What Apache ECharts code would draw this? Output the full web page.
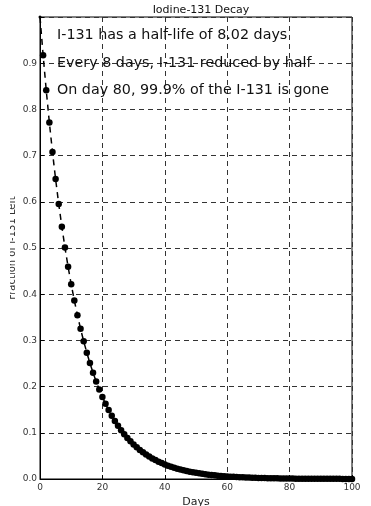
<!DOCTYPE html>
<html>
<head>
<meta charset="utf-8">
<script src="https://cdn.jsdelivr.net/npm/echarts@6/dist/echarts.min.js"></script>
<style>
  html, body { margin: 0; padding: 0; background: #fff; }
  #chart { width: 371px; height: 506px; }
</style>
</head>
<body>
<div id="chart"></div>
<script>
// fraction of I-131 left, one point per day (day 0 .. 100)
const days = [
  0, 1, 2, 3, 4, 5, 6, 7, 8, 9, 10, 11, 12, 13, 14, 15, 16, 17, 18, 19, 20,
  21, 22, 23, 24, 25, 26, 27, 28, 29, 30, 31, 32, 33, 34, 35, 36, 37, 38, 39, 40,
  41, 42, 43, 44, 45, 46, 47, 48, 49, 50, 51, 52, 53, 54, 55, 56, 57, 58, 59, 60,
  61, 62, 63, 64, 65, 66, 67, 68, 69, 70, 71, 72, 73, 74, 75, 76, 77, 78, 79, 80,
  81, 82, 83, 84, 85, 86, 87, 88, 89, 90, 91, 92, 93, 94, 95, 96, 97, 98, 99, 100
]
const fractionLeft = [
  1.0, 0.9172, 0.8413, 0.7716, 0.7077, 0.6491, 0.5954, 0.5461, 0.5009, 0.4594, 0.4214,
  0.3865, 0.3545, 0.3251, 0.2982, 0.2735, 0.2509, 0.2301, 0.2111, 0.1936, 0.1776,
  0.1629, 0.1494, 0.1370, 0.1257, 0.1153, 0.1057, 0.0970, 0.0889, 0.0816, 0.0748,
  0.0686, 0.0629, 0.0577, 0.0530, 0.0486, 0.0445, 0.0409, 0.0375, 0.0344, 0.0315,
  0.0289, 0.0265, 0.0243, 0.0223, 0.0205, 0.0188, 0.0172, 0.0158, 0.0145, 0.0133,
  0.0122, 0.0112, 0.0103, 0.0094, 0.0086, 0.0079, 0.0073, 0.0067, 0.0061, 0.0056,
  0.0051, 0.0047, 0.0043, 0.0040, 0.0036, 0.0033, 0.0031, 0.0028, 0.0026, 0.0024,
  0.0022, 0.0020, 0.0018, 0.0017, 0.0015, 0.0014, 0.0013, 0.0012, 0.0011, 0.0010,
  0.0009, 0.0008, 0.0008, 0.0007, 0.0007, 0.0006, 0.0005, 0.0005, 0.0005, 0.0004,
  0.0004, 0.0004, 0.0003, 0.0003, 0.0003, 0.0003, 0.0002, 0.0002, 0.0002, 0.0002
]
const notes = [
  'I-131 has a half-life of 8.02 days',
  'Every 8 days, I-131 reduced by half',
  'On day 80, 99.9% of the I-131 is gone'
]
const yTitle = 'Fraction of I-131 Left'

const font = 'DejaVu Sans'
const chart = echarts.init(document.getElementById('chart'), null, {
  renderer: 'canvas',
  width: 371,
  height: 506,
})

const gridDash = { color: '#333', type: [5, 4], width: 1 }

const option = {
  backgroundColor: '#fff',
  animation: false,
  title: {
    text: 'Iodine-131 Decay',
    left: 196,
    textAlign: 'center',
    top: 0,
    textStyle: { fontFamily: font, fontSize: 11, fontWeight: 'normal', color: '#111' },
  },
  grid: {
    left: 40,
    right: 19,
    top: 17,
    bottom: 27,
    outerBoundsMode: 'none',
    containLabel: false,
    show: true,
    borderColor: '#000',
    borderWidth: 1,
    backgroundColor: 'transparent',
  },
  xAxis: {
    type: 'value',
    min: 0,
    max: 100,
    interval: 20,
    name: 'Days',
    nameLocation: 'middle',
    nameGap: 12,
    nameTextStyle: { fontFamily: font, fontSize: 11, color: '#222' },
    axisLine: { lineStyle: { color: '#000' } },
    axisTick: { inside: true, length: 4, lineStyle: { color: '#000' } },
    axisLabel: { fontFamily: font, fontSize: 9, color: '#333', margin: 4 },
    splitLine: { show: true, lineStyle: gridDash },
  },
  yAxis: {
    type: 'value',
    min: 0,
    max: 1,
    interval: 0.1,
    axisLine: { lineStyle: { color: '#000' } },
    axisTick: { inside: true, length: 4, lineStyle: { color: '#000' } },
    axisLabel: {
      fontFamily: font,
      fontSize: 9,
      color: '#333',
      margin: 3,
      formatter: v => (v > 0.95 ? '' : v.toFixed(1)),
    },
    splitLine: { show: true, lineStyle: gridDash },
  },
  graphic: [
    ...notes.map((t, i) => ({
      type: 'text',
      z: 10,
      style: {
        x: 57,
        y: 35.5 + i * 27.5,
        text: t,
        fontFamily: font,
        fontSize: 14.3,
        fill: '#111',
        textVerticalAlign: 'middle',
      },
    })),
    // y axis title, its left part is cut off in the reference
    {
      type: 'text',
      x: 17,
      y: 248,
      rotation: Math.PI / 2,
      z: 10,
      style: {
        text: yTitle,
        fontFamily: font,
        fontSize: 10,
        fill: '#333',
        textAlign: 'center',
        textVerticalAlign: 'bottom',
      },
    },
    {
      type: 'rect',
      z: 100,
      shape: { x: 0, y: 150, width: 10, height: 200 },
      style: { fill: '#fff' },
    },
  ],
  series: [
    {
      type: 'line',
      data: days.map((d, i) =>
        i === 0 ? { value: [d, fractionLeft[i]], symbolSize: 3 } : [d, fractionLeft[i]]
      ),
      symbol: 'circle',
      symbolSize: 6.5,
      itemStyle: { color: '#000' },
      lineStyle: { color: '#000', width: 1.5, type: [6, 5] },
      z: 5,
    },
  ],
}

chart.setOption(option)
</script>
</body>
</html>
